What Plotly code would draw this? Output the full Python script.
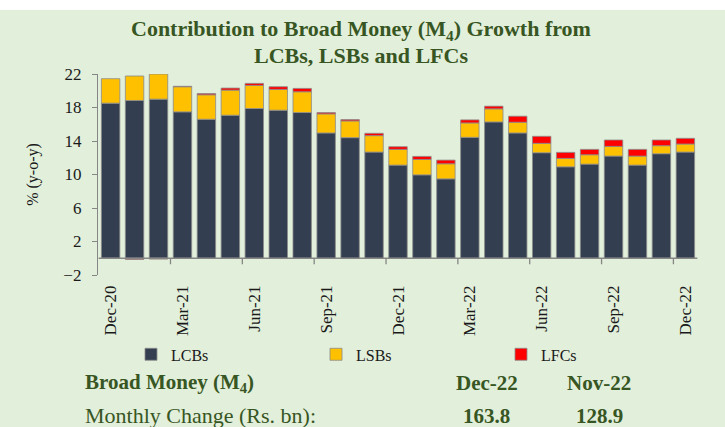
import plotly.graph_objects as go

# data (% y-o-y contribution)
months = ['Dec-20', 'Jan-21', 'Feb-21', 'Mar-21', 'Apr-21', 'May-21', 'Jun-21',
          'Jul-21', 'Aug-21', 'Sep-21', 'Oct-21', 'Nov-21', 'Dec-21', 'Jan-22',
          'Feb-22', 'Mar-22', 'Apr-22', 'May-22', 'Jun-22', 'Jul-22', 'Aug-22',
          'Sep-22', 'Oct-22', 'Nov-22', 'Dec-22']
lcbs = [18.52, 18.84, 19.00, 17.48, 16.60, 17.08, 17.88, 17.68, 17.40, 14.96,
        14.40, 12.68, 11.12, 9.96, 9.48, 14.44, 16.28, 14.96, 12.60, 10.92,
        11.24, 12.20, 11.12, 12.48, 12.68]
lsbs = [2.92, 2.92, 3.00, 3.00, 2.92, 3.00, 2.76, 2.48, 2.48, 2.28,
        2.00, 1.96, 1.88, 1.84, 1.80, 1.72, 1.56, 1.28, 1.12, 1.00,
        1.12, 1.16, 1.08, 0.96, 0.96]
lfcs = [-0.03, -0.15, -0.10, 0.05, 0.15, 0.24, 0.24, 0.32, 0.40, 0.16,
        0.16, 0.28, 0.32, 0.36, 0.44, 0.36, 0.32, 0.72, 0.84, 0.72,
        0.64, 0.76, 0.80, 0.68, 0.68]
y_ticks = [-2, 2, 6, 10, 14, 18, 22]

bg = '#E2EFDA'
green = '#375623'
axis_grey = '#868686'
serif = 'Liberation Serif'

fig = go.Figure()
for name, vals, col in [('LCBs', lcbs, '#333F50'), ('LSBs', lsbs, '#FFC000'), ('LFCs', lfcs, '#FF0000')]:
    fig.add_trace(go.Bar(
        x=months, y=vals, name=name,
        marker=dict(color=col, line=dict(color='#8C8C8C', width=0.8)),
    ))

# x axis line at zero with tick marks every quarter (between categories)
n = len(months)
shapes = [dict(type='line', xref='x', yref='y', x0=-0.5, x1=n - 0.5, y0=0, y1=0,
               line=dict(color=axis_grey, width=1.3))]
for i in range(3, n, 3):
    shapes.append(dict(type='line', xref='x', yref='y', ysizemode='pixel', yanchor=0,
                       x0=i - 0.5, x1=i - 0.5, y0=0, y1=-6,
                       line=dict(color=axis_grey, width=1.3)))
# white strip at very top
shapes.append(dict(type='rect', xref='paper', yref='paper', x0=-0.2, x1=1.1,
                   y0=1.318, y1=1.5, fillcolor='white', line=dict(width=0), layer='above'))

ann = [
    # title (two lines)
    dict(text='<b>Contribution to Broad Money (M<sub>4</sub>) Growth from</b>', x=0.438, y=1.218,
         font=dict(size=22, color=green, family=serif)),
    dict(text='<b>LCBs, LSBs and LFCs</b>', x=0.438, y=1.09,
         font=dict(size=22, color=green, family=serif)),
    # summary table under the chart
    dict(text='<b>Broad Money (M<sub>4</sub>)</b>', x=-0.025, y=-0.537, xanchor='left',
         font=dict(size=21, color=green)),
    dict(text='<b>Dec-22</b>', x=0.648, y=-0.537, font=dict(size=21, color=green)),
    dict(text='<b>Nov-22</b>', x=0.835, y=-0.537, font=dict(size=21, color=green)),
    dict(text='Monthly Change (Rs. bn):', x=-0.025, y=-0.70, xanchor='left',
         font=dict(size=22, color=green)),
    dict(text='<b>163.8</b>', x=0.647, y=-0.70, font=dict(size=21, color=green)),
    dict(text='<b>128.9</b>', x=0.835, y=-0.70, font=dict(size=21, color=green)),
]
for a in ann:
    a.update(xref='paper', yref='paper', showarrow=False, yanchor='middle')
    a.setdefault('xanchor', 'center')

fig.update_layout(
    width=725, height=427,
    margin=dict(l=98, r=27, t=74, b=152),
    paper_bgcolor=bg, plot_bgcolor=bg,
    barmode='relative', bargap=0.23,
    font=dict(family=serif, size=15, color='#1a1a1a'),
    legend=dict(orientation='h', x=0.055, y=-0.395, xanchor='left', yanchor='middle',
                entrywidth=140, entrywidthmode='pixels', bgcolor='rgba(0,0,0,0)',
                font=dict(size=16, color='#1a1a1a'), traceorder='normal'),
    shapes=shapes,
    annotations=ann,
    showlegend=True,
)
fig.update_xaxes(type='category', tickmode='array', tickvals=months[::3],
                 tickangle=-90, showline=False, ticks='', showgrid=False,
                 ticklabelstandoff=6, zeroline=False, tickfont=dict(size=17))
fig.update_yaxes(range=[-2, 22], tickmode='array', tickvals=y_ticks, showgrid=False,
                 zeroline=False, showline=True, linecolor=axis_grey, linewidth=1.3,
                 ticks='outside', ticklen=5, tickcolor=axis_grey, tickwidth=1.3,
                 ticklabelstandoff=7,
                 title=dict(text='% (y-o-y)', standoff=20, font=dict(size=16)),
                 tickfont=dict(size=17))

fig.write_html('out.html', config={'displayModeBar': False},
               post_script="document.body.style.margin='0';document.body.style.background='#E2EFDA';")
